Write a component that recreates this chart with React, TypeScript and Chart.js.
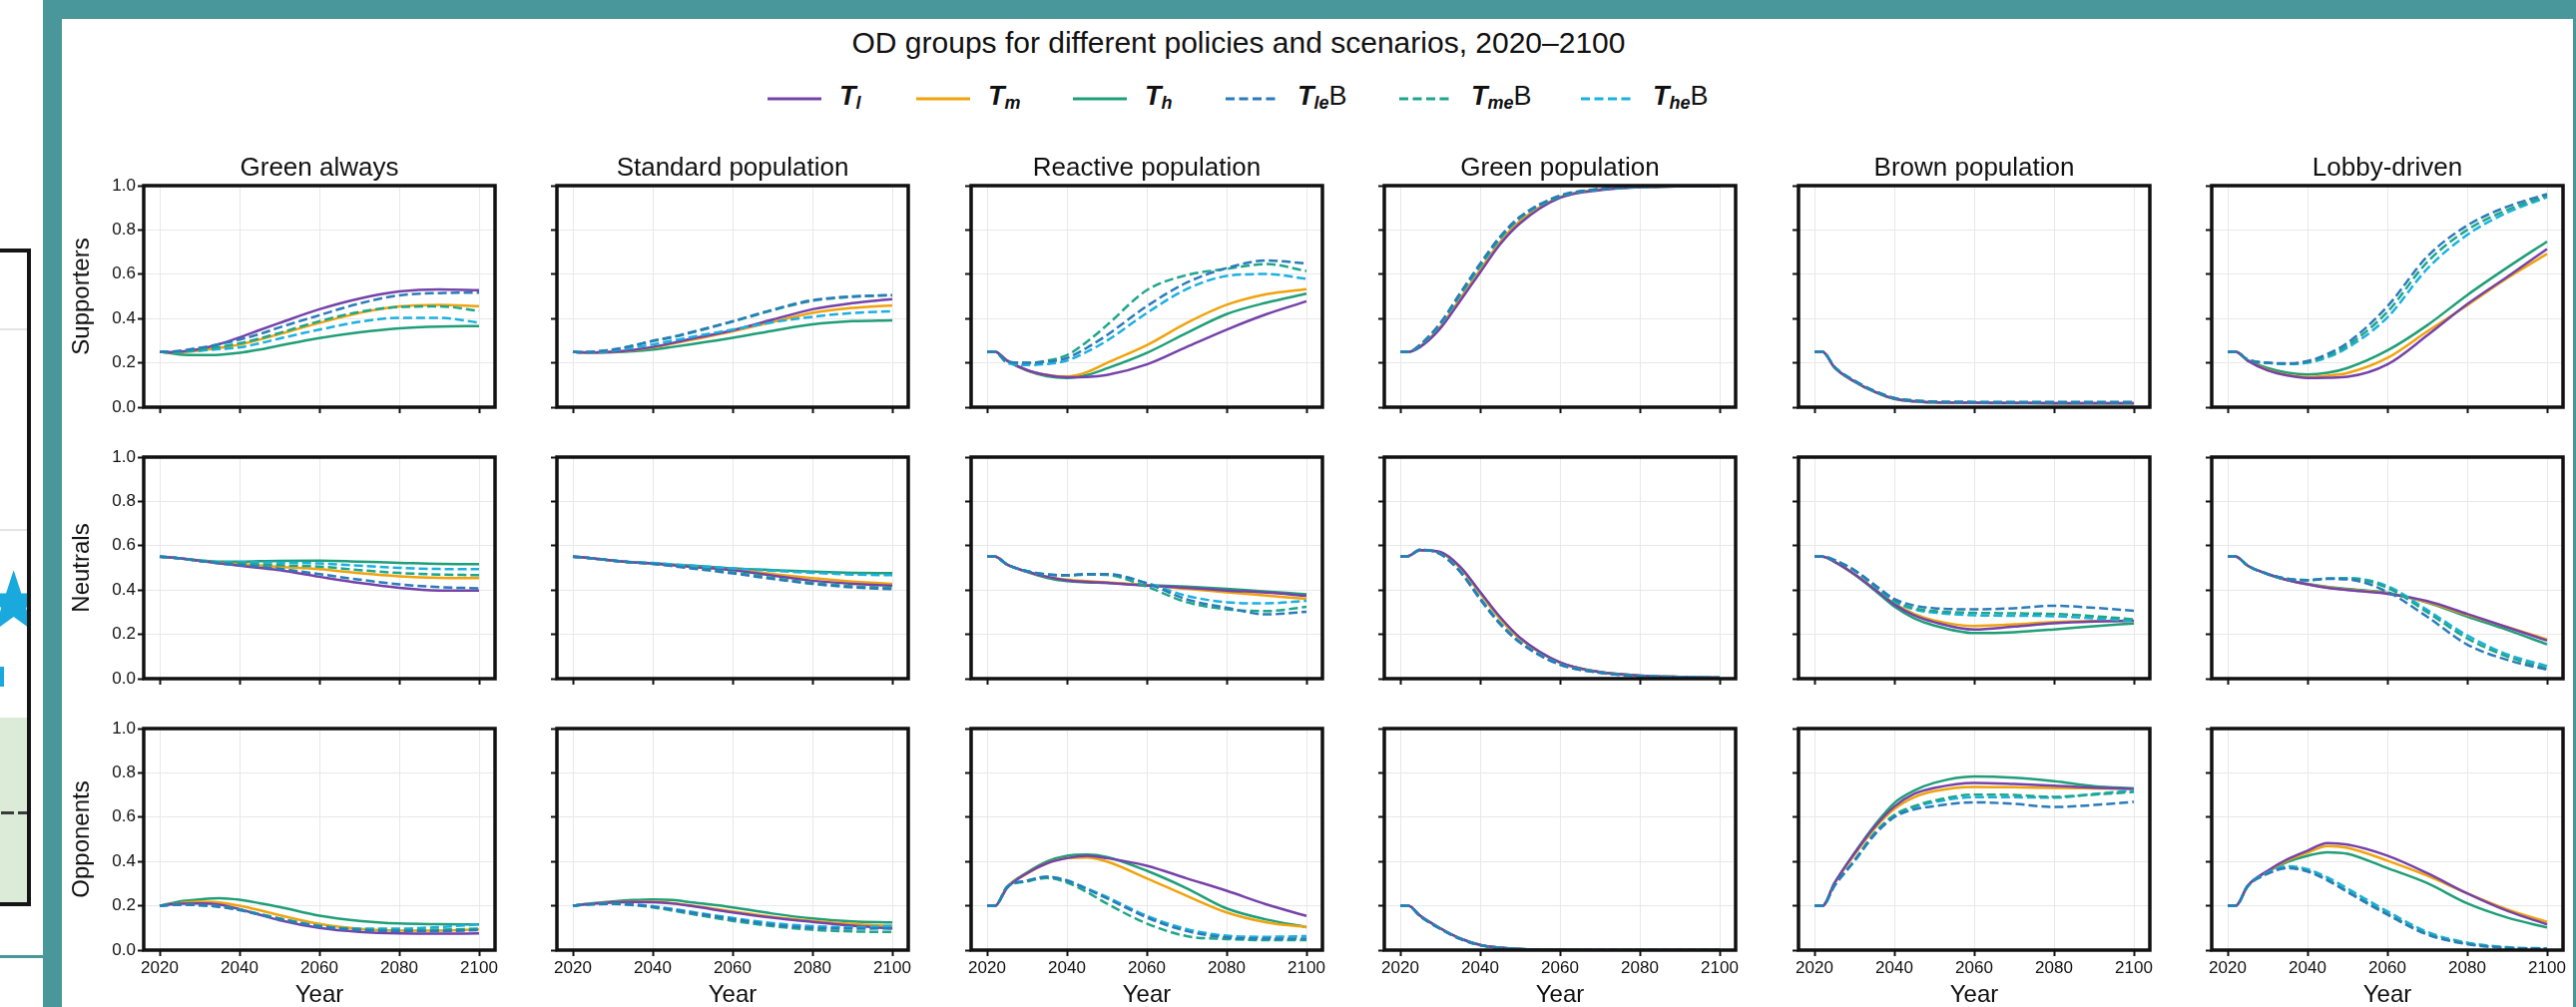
import React, { useEffect, useRef } from "react";
import { Chart, registerables } from "chart.js";

Chart.register(...registerables);

// ---------------- data ----------------
const YEARS = [2020, 2022, 2025, 2030, 2035, 2040, 2045, 2050, 2060, 2070, 2080, 2090, 2100];
const X_TICKS = [2020, 2040, 2060, 2080, 2100];
const Y_TICKS = [0, 0.2, 0.4, 0.6, 0.8, 1.0];
const SCENARIOS = ["Green always", "Standard population", "Reactive population", "Green population", "Brown population", "Lobby-driven"];
const GROUPS = ["Supporters", "Neutrals", "Opponents"];
const SERIES_NAMES = ["T_l", "T_m", "T_h", "T_leB", "T_meB", "T_heB"];
const LEGEND_SUBS = ["l", "m", "h", "le", "me", "he"];
const LEGEND_SUFFIX = ["", "", "", "B", "B", "B"];
const MAIN_TITLE = "OD groups for different policies and scenarios, 2020–2100";
const X_TITLE = "Year";

// order of rows in every array: T_l, T_m, T_h, T_leB, T_meB, T_heB
const greenAlwaysSupporters = [
  [0.25, 0.248, 0.25, 0.262, 0.285, 0.315, 0.348, 0.38, 0.442, 0.49, 0.522, 0.532, 0.528],
  [0.25, 0.248, 0.248, 0.255, 0.268, 0.282, 0.305, 0.33, 0.38, 0.425, 0.455, 0.462, 0.456],
  [0.25, 0.245, 0.238, 0.235, 0.237, 0.245, 0.26, 0.278, 0.312, 0.338, 0.356, 0.364, 0.366],
  [0.25, 0.25, 0.255, 0.268, 0.285, 0.305, 0.33, 0.36, 0.415, 0.468, 0.505, 0.515, 0.517],
  [0.25, 0.25, 0.252, 0.26, 0.272, 0.288, 0.31, 0.335, 0.388, 0.43, 0.452, 0.455, 0.435],
  [0.25, 0.25, 0.25, 0.255, 0.262, 0.27, 0.288, 0.31, 0.35, 0.385, 0.403, 0.403, 0.382],
];
const greenAlwaysNeutrals = [
  [0.551, 0.548, 0.543, 0.532, 0.52, 0.51, 0.5, 0.49, 0.46, 0.432, 0.41, 0.398, 0.397],
  [0.551, 0.548, 0.543, 0.532, 0.522, 0.518, 0.511, 0.505, 0.494, 0.476, 0.462, 0.455, 0.454],
  [0.551, 0.548, 0.543, 0.534, 0.528, 0.528, 0.53, 0.532, 0.533, 0.528, 0.523, 0.518, 0.517],
  [0.551, 0.548, 0.543, 0.532, 0.52, 0.513, 0.505, 0.496, 0.472, 0.447, 0.426, 0.413, 0.408],
  [0.551, 0.548, 0.543, 0.532, 0.523, 0.52, 0.516, 0.512, 0.506, 0.49, 0.477, 0.47, 0.467],
  [0.551, 0.548, 0.543, 0.533, 0.526, 0.526, 0.525, 0.524, 0.52, 0.51, 0.5, 0.495, 0.494],
];
const greenAlwaysOpponents = [
  [0.2, 0.205, 0.21, 0.211, 0.205, 0.185, 0.16, 0.135, 0.1, 0.082, 0.075, 0.074, 0.075],
  [0.2, 0.205, 0.212, 0.218, 0.215, 0.2, 0.18, 0.158, 0.118, 0.096, 0.088, 0.088, 0.093],
  [0.2, 0.208, 0.22, 0.229, 0.234, 0.227, 0.212, 0.195, 0.155, 0.132, 0.12, 0.117, 0.116],
  [0.2, 0.203, 0.205, 0.203, 0.195, 0.18, 0.16, 0.14, 0.106, 0.09, 0.086, 0.086, 0.09],
  [0.2, 0.203, 0.205, 0.203, 0.196, 0.182, 0.162, 0.142, 0.108, 0.094, 0.09, 0.092, 0.097],
  [0.2, 0.203, 0.205, 0.203, 0.197, 0.183, 0.163, 0.143, 0.11, 0.097, 0.097, 0.104, 0.116],
];

const standardSupporters = [
  [0.25, 0.248, 0.247, 0.25, 0.258, 0.272, 0.29, 0.31, 0.347, 0.395, 0.442, 0.47, 0.488],
  [0.25, 0.248, 0.247, 0.25, 0.257, 0.27, 0.287, 0.305, 0.342, 0.385, 0.426, 0.448, 0.46],
  [0.25, 0.248, 0.247, 0.248, 0.252, 0.26, 0.272, 0.285, 0.313, 0.345, 0.374, 0.388, 0.392],
  [0.25, 0.248, 0.25, 0.26, 0.278, 0.3, 0.318, 0.34, 0.388, 0.44, 0.483, 0.5, 0.506],
  [0.25, 0.248, 0.25, 0.26, 0.277, 0.298, 0.316, 0.338, 0.386, 0.437, 0.48, 0.498, 0.505],
  [0.25, 0.248, 0.248, 0.255, 0.268, 0.283, 0.3, 0.318, 0.35, 0.383, 0.408, 0.425, 0.433],
];
const standardNeutrals = [
  [0.551, 0.548, 0.543, 0.533, 0.525, 0.52, 0.512, 0.505, 0.49, 0.465, 0.442, 0.428, 0.42],
  [0.551, 0.548, 0.543, 0.533, 0.525, 0.52, 0.513, 0.506, 0.492, 0.472, 0.454, 0.438, 0.428],
  [0.551, 0.548, 0.543, 0.533, 0.525, 0.521, 0.515, 0.51, 0.498, 0.49, 0.483, 0.478, 0.476],
  [0.551, 0.548, 0.543, 0.533, 0.525, 0.518, 0.508, 0.497, 0.475, 0.45, 0.428, 0.412, 0.404],
  [0.551, 0.548, 0.543, 0.533, 0.525, 0.518, 0.51, 0.5, 0.48, 0.455, 0.432, 0.417, 0.41],
  [0.551, 0.548, 0.543, 0.533, 0.526, 0.522, 0.516, 0.51, 0.498, 0.487, 0.478, 0.47, 0.467],
];
const standardOpponents = [
  [0.2, 0.205, 0.21, 0.215, 0.217, 0.216, 0.21, 0.198, 0.17, 0.146, 0.127, 0.11, 0.098],
  [0.2, 0.205, 0.21, 0.215, 0.218, 0.218, 0.212, 0.2, 0.175, 0.15, 0.132, 0.118, 0.109],
  [0.2, 0.205, 0.212, 0.22, 0.226, 0.229, 0.226, 0.215, 0.193, 0.165, 0.143, 0.13, 0.125],
  [0.2, 0.204, 0.207, 0.209, 0.205, 0.196, 0.183, 0.168, 0.14, 0.115, 0.1, 0.097, 0.098],
  [0.2, 0.204, 0.207, 0.208, 0.203, 0.193, 0.178, 0.162, 0.132, 0.108, 0.092, 0.084, 0.082],
  [0.2, 0.204, 0.207, 0.209, 0.206, 0.198, 0.186, 0.172, 0.145, 0.122, 0.108, 0.104, 0.109],
];

const reactiveSupporters = [
  [0.25, 0.25, 0.21, 0.168, 0.145, 0.135, 0.136, 0.145, 0.193, 0.272, 0.35, 0.42, 0.478],
  [0.25, 0.25, 0.21, 0.167, 0.145, 0.138, 0.158, 0.2, 0.28, 0.38, 0.462, 0.51, 0.533],
  [0.25, 0.25, 0.21, 0.165, 0.14, 0.132, 0.145, 0.175, 0.245, 0.335, 0.42, 0.472, 0.512],
  [0.25, 0.25, 0.205, 0.2, 0.205, 0.222, 0.268, 0.325, 0.456, 0.562, 0.628, 0.662, 0.649],
  [0.25, 0.25, 0.205, 0.2, 0.21, 0.235, 0.295, 0.37, 0.528, 0.596, 0.624, 0.646, 0.615],
  [0.25, 0.25, 0.2, 0.19, 0.195, 0.21, 0.25, 0.3, 0.425, 0.533, 0.592, 0.601, 0.58],
];
const reactiveNeutrals = [
  [0.551, 0.551, 0.515, 0.483, 0.46, 0.444, 0.437, 0.432, 0.42, 0.41, 0.398, 0.388, 0.374],
  [0.551, 0.551, 0.515, 0.483, 0.46, 0.447, 0.44, 0.435, 0.422, 0.405, 0.39, 0.375, 0.36],
  [0.551, 0.551, 0.515, 0.482, 0.455, 0.44, 0.435, 0.432, 0.422, 0.415, 0.405, 0.393, 0.381],
  [0.551, 0.551, 0.515, 0.485, 0.47, 0.467, 0.472, 0.472, 0.43, 0.358, 0.32, 0.29, 0.302],
  [0.551, 0.551, 0.515, 0.485, 0.47, 0.467, 0.47, 0.468, 0.415, 0.345, 0.313, 0.305, 0.324],
  [0.551, 0.551, 0.515, 0.485, 0.47, 0.466, 0.47, 0.47, 0.432, 0.374, 0.345, 0.34, 0.351],
];
const reactiveOpponents = [
  [0.2, 0.2, 0.28, 0.347, 0.392, 0.415, 0.426, 0.415, 0.381, 0.324, 0.268, 0.206, 0.154],
  [0.2, 0.2, 0.283, 0.345, 0.392, 0.415, 0.418, 0.4, 0.324, 0.245, 0.17, 0.125, 0.104],
  [0.2, 0.2, 0.285, 0.35, 0.4, 0.426, 0.431, 0.42, 0.358, 0.279, 0.188, 0.138, 0.104],
  [0.2, 0.2, 0.285, 0.313, 0.331, 0.313, 0.275, 0.234, 0.147, 0.086, 0.057, 0.052, 0.052],
  [0.2, 0.2, 0.283, 0.31, 0.325, 0.305, 0.262, 0.21, 0.12, 0.063, 0.05, 0.045, 0.045],
  [0.2, 0.2, 0.285, 0.313, 0.331, 0.315, 0.278, 0.24, 0.155, 0.095, 0.065, 0.06, 0.063],
];

const greenSupporters = [
  [0.25, 0.25, 0.272, 0.355, 0.48, 0.608, 0.735, 0.83, 0.945, 0.98, 0.993, 0.997, 0.998],
  [0.25, 0.25, 0.275, 0.362, 0.49, 0.62, 0.745, 0.84, 0.948, 0.982, 0.993, 0.997, 0.998],
  [0.25, 0.25, 0.274, 0.36, 0.488, 0.615, 0.742, 0.838, 0.947, 0.982, 0.993, 0.997, 0.998],
  [0.25, 0.25, 0.283, 0.38, 0.515, 0.648, 0.77, 0.86, 0.955, 0.985, 0.994, 0.997, 0.998],
  [0.25, 0.25, 0.28, 0.375, 0.508, 0.64, 0.763, 0.855, 0.952, 0.984, 0.994, 0.997, 0.998],
  [0.25, 0.25, 0.28, 0.373, 0.505, 0.635, 0.76, 0.853, 0.951, 0.984, 0.994, 0.997, 0.998],
];
const greenNeutrals = [
  [0.551, 0.553, 0.58, 0.572, 0.505, 0.392, 0.278, 0.185, 0.074, 0.03, 0.014, 0.008, 0.005],
  [0.551, 0.553, 0.58, 0.57, 0.5, 0.385, 0.27, 0.18, 0.072, 0.03, 0.014, 0.008, 0.005],
  [0.551, 0.553, 0.58, 0.57, 0.502, 0.388, 0.274, 0.182, 0.073, 0.03, 0.014, 0.008, 0.005],
  [0.551, 0.553, 0.582, 0.562, 0.482, 0.358, 0.246, 0.162, 0.063, 0.027, 0.012, 0.007, 0.004],
  [0.551, 0.553, 0.582, 0.563, 0.484, 0.362, 0.25, 0.165, 0.065, 0.027, 0.012, 0.007, 0.004],
  [0.551, 0.553, 0.582, 0.564, 0.486, 0.365, 0.252, 0.166, 0.066, 0.028, 0.012, 0.007, 0.004],
];
const greenOpponents = [
  [0.2, 0.2, 0.155, 0.099, 0.053, 0.024, 0.011, 0.005, 0.001, 0, 0, 0, 0],
  [0.2, 0.2, 0.154, 0.098, 0.052, 0.023, 0.011, 0.005, 0.001, 0, 0, 0, 0],
  [0.2, 0.2, 0.154, 0.098, 0.052, 0.023, 0.011, 0.005, 0.001, 0, 0, 0, 0],
  [0.2, 0.2, 0.152, 0.096, 0.05, 0.022, 0.01, 0.005, 0.001, 0, 0, 0, 0],
  [0.2, 0.2, 0.153, 0.097, 0.051, 0.022, 0.01, 0.005, 0.001, 0, 0, 0, 0],
  [0.2, 0.2, 0.153, 0.097, 0.051, 0.022, 0.01, 0.005, 0.001, 0, 0, 0, 0],
];

const brownSupporters = [
  [0.25, 0.25, 0.18, 0.116, 0.07, 0.038, 0.027, 0.022, 0.02, 0.019, 0.018, 0.018, 0.018],
  [0.25, 0.25, 0.18, 0.116, 0.07, 0.038, 0.027, 0.022, 0.02, 0.019, 0.018, 0.018, 0.018],
  [0.25, 0.25, 0.179, 0.115, 0.069, 0.037, 0.026, 0.021, 0.019, 0.018, 0.017, 0.017, 0.017],
  [0.25, 0.25, 0.182, 0.12, 0.074, 0.042, 0.03, 0.025, 0.023, 0.022, 0.022, 0.022, 0.022],
  [0.25, 0.25, 0.182, 0.119, 0.073, 0.041, 0.03, 0.025, 0.023, 0.022, 0.022, 0.022, 0.022],
  [0.25, 0.25, 0.182, 0.119, 0.073, 0.041, 0.029, 0.024, 0.022, 0.022, 0.022, 0.022, 0.022],
];
const brownNeutrals = [
  [0.551, 0.551, 0.528, 0.472, 0.404, 0.335, 0.285, 0.255, 0.222, 0.235, 0.25, 0.258, 0.261],
  [0.551, 0.551, 0.528, 0.472, 0.405, 0.34, 0.292, 0.263, 0.238, 0.245, 0.256, 0.26, 0.261],
  [0.551, 0.551, 0.528, 0.47, 0.4, 0.325, 0.272, 0.24, 0.206, 0.21, 0.222, 0.237, 0.249],
  [0.551, 0.551, 0.535, 0.49, 0.425, 0.36, 0.33, 0.318, 0.313, 0.318, 0.329, 0.32, 0.306],
  [0.551, 0.551, 0.535, 0.488, 0.42, 0.352, 0.318, 0.305, 0.297, 0.295, 0.292, 0.282, 0.268],
  [0.551, 0.551, 0.535, 0.488, 0.418, 0.348, 0.312, 0.298, 0.286, 0.284, 0.282, 0.272, 0.261],
];
const brownOpponents = [
  [0.2, 0.2, 0.302, 0.436, 0.555, 0.648, 0.705, 0.732, 0.755, 0.75, 0.742, 0.733, 0.728],
  [0.2, 0.2, 0.3, 0.43, 0.548, 0.637, 0.69, 0.717, 0.737, 0.735, 0.732, 0.73, 0.728],
  [0.2, 0.2, 0.302, 0.438, 0.562, 0.664, 0.72, 0.755, 0.784, 0.778, 0.762, 0.74, 0.73],
  [0.2, 0.2, 0.29, 0.404, 0.52, 0.6, 0.635, 0.65, 0.667, 0.66, 0.646, 0.655, 0.669],
  [0.2, 0.2, 0.29, 0.404, 0.528, 0.61, 0.65, 0.675, 0.702, 0.7, 0.692, 0.702, 0.714],
  [0.2, 0.2, 0.29, 0.4, 0.52, 0.605, 0.645, 0.668, 0.69, 0.69, 0.688, 0.705, 0.721],
];

const lobbySupporters = [
  [0.25, 0.25, 0.21, 0.166, 0.143, 0.132, 0.133, 0.137, 0.193, 0.324, 0.465, 0.588, 0.714],
  [0.25, 0.25, 0.21, 0.168, 0.145, 0.136, 0.142, 0.154, 0.222, 0.342, 0.46, 0.582, 0.692],
  [0.25, 0.25, 0.212, 0.177, 0.155, 0.147, 0.155, 0.177, 0.256, 0.37, 0.506, 0.63, 0.748],
  [0.25, 0.25, 0.215, 0.2, 0.198, 0.208, 0.24, 0.29, 0.455, 0.68, 0.82, 0.905, 0.962],
  [0.25, 0.25, 0.215, 0.2, 0.197, 0.204, 0.232, 0.278, 0.43, 0.655, 0.8, 0.89, 0.955],
  [0.25, 0.25, 0.215, 0.2, 0.195, 0.2, 0.225, 0.268, 0.405, 0.625, 0.778, 0.878, 0.948],
];
const lobbyNeutrals = [
  [0.551, 0.551, 0.51, 0.472, 0.445, 0.426, 0.41, 0.4, 0.383, 0.35, 0.292, 0.232, 0.172],
  [0.551, 0.551, 0.51, 0.472, 0.445, 0.426, 0.412, 0.402, 0.385, 0.345, 0.288, 0.233, 0.177],
  [0.551, 0.551, 0.51, 0.472, 0.445, 0.428, 0.415, 0.405, 0.387, 0.343, 0.28, 0.22, 0.155],
  [0.551, 0.551, 0.51, 0.472, 0.45, 0.444, 0.45, 0.448, 0.392, 0.279, 0.154, 0.085, 0.04],
  [0.551, 0.551, 0.51, 0.472, 0.45, 0.445, 0.452, 0.452, 0.41, 0.3, 0.182, 0.1, 0.045],
  [0.551, 0.551, 0.51, 0.472, 0.45, 0.445, 0.452, 0.454, 0.418, 0.31, 0.195, 0.11, 0.057],
];
const lobbyOpponents = [
  [0.2, 0.2, 0.29, 0.358, 0.41, 0.449, 0.483, 0.476, 0.426, 0.347, 0.256, 0.177, 0.116],
  [0.2, 0.2, 0.29, 0.356, 0.405, 0.44, 0.47, 0.462, 0.404, 0.336, 0.256, 0.184, 0.127],
  [0.2, 0.2, 0.29, 0.354, 0.398, 0.426, 0.442, 0.435, 0.37, 0.302, 0.211, 0.147, 0.102],
  [0.2, 0.2, 0.288, 0.345, 0.37, 0.355, 0.315, 0.262, 0.16, 0.07, 0.027, 0.01, 0.006],
  [0.2, 0.2, 0.288, 0.345, 0.372, 0.358, 0.318, 0.266, 0.165, 0.074, 0.029, 0.011, 0.007],
  [0.2, 0.2, 0.29, 0.35, 0.378, 0.365, 0.328, 0.278, 0.175, 0.082, 0.034, 0.013, 0.008],
];

// panels[column][row]
const PANELS = [
  [greenAlwaysSupporters, greenAlwaysNeutrals, greenAlwaysOpponents],
  [standardSupporters, standardNeutrals, standardOpponents],
  [reactiveSupporters, reactiveNeutrals, reactiveOpponents],
  [greenSupporters, greenNeutrals, greenOpponents],
  [brownSupporters, brownNeutrals, brownOpponents],
  [lobbySupporters, lobbyNeutrals, lobbyOpponents],
];

// ---------------- styles ----------------
const FONT = "'Liberation Sans', Arial, sans-serif";
const COLORS = ["#7442a8", "#f0a30c", "#1f9e78", "#2b7bba", "#1ea689", "#1bb0e0"];
const DASHED = [false, false, false, true, true, true];
const TEAL = "#4a979b";
const INK = "#111111";

const PLOT_W = 352;
const PLOT_H = 222;
const COL_LEFT0 = 144;
const COL_STEP = 414.4;
const ROW_TOPS = [186, 458, 730];
const LM = 80;
const TM = 45;
const RM = 12;
const BM = 60;
const CW = LM + PLOT_W + RM;
const CH = TM + PLOT_H + BM;

Chart.defaults.font.family = FONT;

const spinePlugin = {
  id: "spines",
  afterDatasetsDraw(chart: any) {
    const { ctx, chartArea } = chart;
    const { left, top, right, bottom } = chartArea;
    ctx.save();
    ctx.strokeStyle = INK;
    ctx.lineWidth = 3.5;
    ctx.strokeRect(left, top, right - left, bottom - top);
    ctx.restore();
  },
};

// column heading centred over the plotting area (like matplotlib's ax.set_title)
const panelTitlePlugin = {
  id: "panelTitle",
  afterDraw(chart: any, _args: any, opts: any) {
    if (!opts || !opts.text) return;
    const { ctx, chartArea } = chart;
    ctx.save();
    ctx.font = `26px ${FONT}`;
    ctx.fillStyle = INK;
    ctx.textAlign = "center";
    ctx.textBaseline = "middle";
    ctx.fillText(opts.text, (chartArea.left + chartArea.right) / 2, chartArea.top - 17);
    ctx.restore();
  },
};

function Panel({ row, col }: { row: number; col: number }) {
  const ref = useRef<HTMLCanvasElement | null>(null);
  const left = Math.round(COL_LEFT0 + col * COL_STEP) - LM;
  const top = ROW_TOPS[row] - TM;

  useEffect(() => {
    const values = PANELS[col][row];
    const isBottom = row === 2;
    const isLeft = col === 0;
    const datasets = SERIES_NAMES.map((name, i) => ({
      label: name,
      data: YEARS.map((x, j) => ({ x, y: values[i][j] })),
      borderColor: COLORS[i],
      backgroundColor: COLORS[i],
      borderWidth: 2.5,
      borderDash: DASHED[i] ? [9, 4] : [],
      pointRadius: 0,
      fill: false,
      cubicInterpolationMode: "monotone" as const,
      order: DASHED[i] ? 0 : 1,
    }));
    const gridCommon = {
      color: "#e8e8e8",
      lineWidth: 1,
      tickColor: INK,
      tickLength: 6,
      tickWidth: 2,
      drawTicks: true,
    };
    const chart = new Chart(ref.current as HTMLCanvasElement, {
      type: "line",
      data: { datasets },
      plugins: [spinePlugin, panelTitlePlugin],
      options: {
        responsive: false,
        animation: false,
        devicePixelRatio: 1,
        events: [],
        layout: { padding: { top: TM, right: RM, bottom: 0, left: 0 } },
        plugins: {
          legend: { display: false },
          tooltip: { enabled: false },
          title: { display: false },
          panelTitle: { text: row === 0 ? SCENARIOS[col] : "" },
        },
        scales: {
          x: {
            type: "linear",
            min: 2016,
            max: 2104,
            afterBuildTicks: (s: any) => {
              s.ticks = X_TICKS.map((v) => ({ value: v }));
            },
            afterFit: (s: any) => {
              s.height = BM;
            },
            ticks: {
              display: isBottom,
              color: INK,
              font: { size: 17, family: FONT },
              padding: 2,
              maxRotation: 0,
              autoSkip: false,
              callback: (v: any) => String(v),
            },
            grid: gridCommon,
            border: { display: false },
            title: {
              display: isBottom,
              text: X_TITLE,
              color: INK,
              font: { size: 24, family: FONT },
              padding: { top: 0, bottom: 0 },
            },
          },
          y: {
            type: "linear",
            min: 0,
            max: 1,
            afterBuildTicks: (s: any) => {
              s.ticks = Y_TICKS.map((v) => ({ value: v }));
            },
            afterFit: (s: any) => {
              s.width = LM;
            },
            ticks: {
              display: isLeft,
              color: INK,
              font: { size: 17, family: FONT },
              padding: 2,
              callback: (v: any) => Number(v).toFixed(1),
            },
            grid: gridCommon,
            border: { display: false },
            title: {
              display: isLeft,
              text: GROUPS[row],
              color: INK,
              font: { size: 24, family: FONT },
              padding: { top: 3.6, bottom: 0 },
            },
          },
        },
      } as any,
    });
    return () => chart.destroy();
  }, [row, col]);

  return (
    <canvas
      ref={ref}
      width={CW}
      height={CH}
      style={{ position: "absolute", left, top, width: CW, height: CH }}
    />
  );
}

function LegendItem({ i, x }: { i: number; x: number }) {
  return (
    <div style={{ position: "absolute", left: x, top: 84, height: 30, display: "flex", alignItems: "center" }}>
      <svg width={54} height={8} style={{ display: "block" }}>
        <line
          x1={0}
          y1={4}
          x2={54}
          y2={4}
          stroke={COLORS[i]}
          strokeWidth={3.2}
          strokeDasharray={DASHED[i] ? "9 4.5" : undefined}
        />
      </svg>
      <span style={{ marginLeft: 18, fontSize: 27, color: INK, fontFamily: FONT, lineHeight: "30px", whiteSpace: "nowrap" }}>
        <b><i>T</i></b>
        <sub style={{ fontSize: 18, fontWeight: "bold", fontStyle: "italic", verticalAlign: "-4px" }}>{LEGEND_SUBS[i]}</sub>
        {LEGEND_SUFFIX[i]}
      </span>
    </div>
  );
}

export default function App() {
  const legendX = [769, 918, 1075, 1228, 1402, 1584];
  const panels: React.ReactNode[] = [];
  for (let c = 0; c < SCENARIOS.length; c++) {
    for (let r = 0; r < GROUPS.length; r++) {
      panels.push(<Panel key={`${r}-${c}`} row={r} col={c} />);
    }
  }
  return (
    <div
      style={{
        position: "fixed",
        left: 0,
        top: 0,
        width: 2581,
        height: 1009,
        overflow: "hidden",
        background: "#ffffff",
        fontFamily: FONT,
      }}
    >
      {/* fragment of the surrounding page on the left */}
      <div style={{ position: "absolute", left: -20, top: 249, width: 51, height: 659, border: "4px solid #151515", boxSizing: "border-box", background: "#fff", overflow: "hidden" }}>
        <div style={{ position: "absolute", left: 0, top: 76, width: 60, height: 1.5, background: "#e4e4e4" }} />
        <div style={{ position: "absolute", left: 0, top: 277, width: 60, height: 1.5, background: "#e4e4e4" }} />
        <div style={{ position: "absolute", left: 0, top: 466, width: 60, height: 200, background: "#dcebd8" }} />
        <div style={{ position: "absolute", left: 0, top: 560, width: 60, height: 3, background: "repeating-linear-gradient(90deg, #3a3a3a 0 13px, transparent 13px 17px)" }} />
        <div style={{ position: "absolute", left: -8, top: 308, fontSize: 84, lineHeight: "84px", color: "#1aa9dc", fontFamily: "'DejaVu Sans', sans-serif" }}>★</div>
      </div>
      <div style={{ position: "absolute", left: 0, top: 668, width: 4, height: 20, background: "#1aa9dc" }} />
      <div style={{ position: "absolute", left: 0, top: 957, width: 43, height: 2.5, background: TEAL }} />

      {/* teal frame */}
      <div style={{ position: "absolute", left: 43, top: 0, width: 2538, height: 19, background: TEAL }} />
      <div style={{ position: "absolute", left: 43, top: 0, width: 19, height: 1009, background: TEAL }} />
      <div style={{ position: "absolute", left: 2578, top: 0, width: 3, height: 1009, background: TEAL }} />

      {/* main title */}
      <div style={{ position: "absolute", left: 641, top: 28, width: 1200, textAlign: "center", fontSize: 30, lineHeight: "30px", color: INK, whiteSpace: "nowrap" }}>
        {MAIN_TITLE}
      </div>

      {/* legend */}
      {SERIES_NAMES.map((_, i) => (
        <LegendItem key={i} i={i} x={legendX[i]} />
      ))}

      {panels}
    </div>
  );
}
